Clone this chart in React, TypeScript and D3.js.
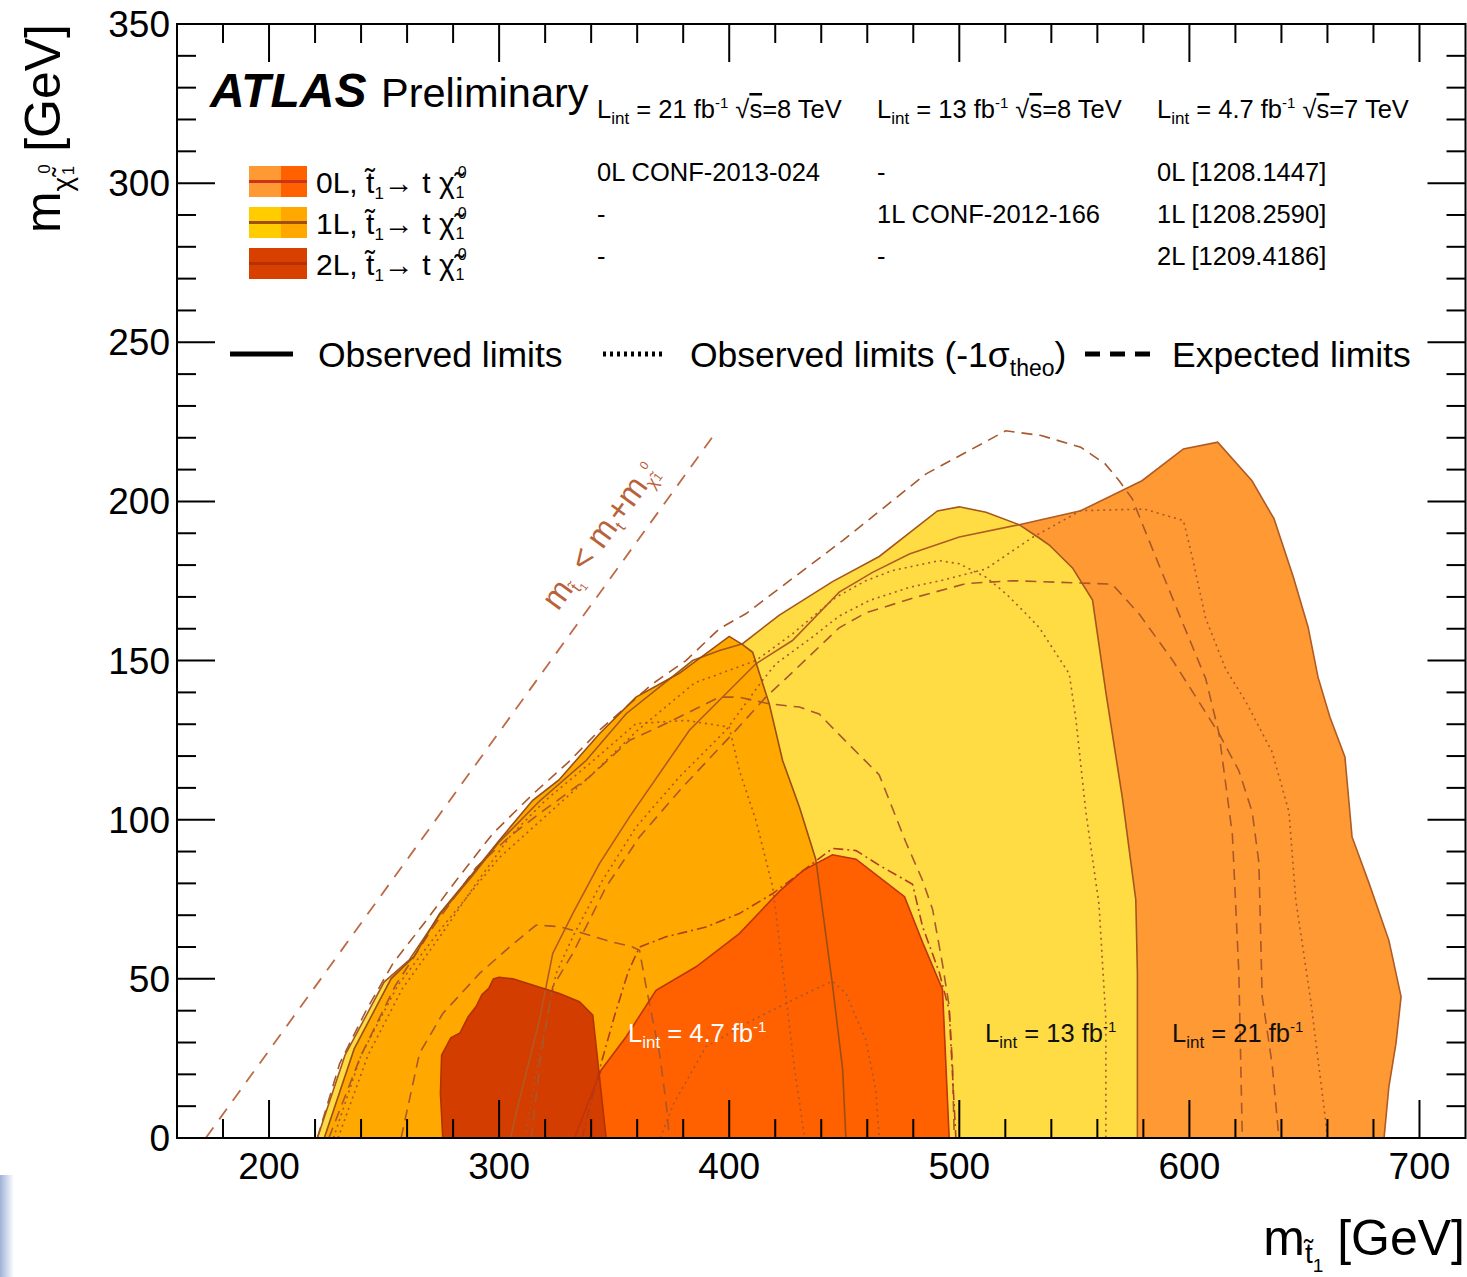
import React from 'react';
import * as d3 from 'd3';

type Pt = [number, number];

// observed exclusion contours, [m_stop, m_LSP] in GeV
const obs0L21: Pt[] = [[305, 0], [307.4, 7.8], [317.5, 37], [323.3, 58], [332, 70.5], [343.6, 86.2], [356.6, 100.8], [382.7, 128.1], [411.6, 149], [427.5, 156.3], [447.8, 171.5], [462.3, 177.7], [478.3, 183.5], [500, 188.8], [526, 192.7], [552.8, 197.1], [579.4, 206.5], [597.4, 216.5], [612.3, 218.6], [627.2, 206.5], [636.8, 194.5], [645.2, 176.2], [651.6, 160.5], [655.9, 144.8], [661.1, 132.2], [667.6, 119.7], [670.7, 94.6], [678.1, 80], [686.7, 62.1], [692, 44.4], [689.8, 29.8], [686.7, 16.1], [684.6, 0]];
const obs1L13: Pt[] = [[221, 0], [233, 26], [250, 49], [261, 56], [274, 70], [288.5, 82.5], [300, 93], [317.5, 105.8], [337.8, 118.6], [355.2, 133.3], [384.1, 150], [395.8, 153.2], [405.8, 155.3], [421.8, 164.3], [444.9, 174.8], [465.2, 182.7], [490.5, 197], [500, 198.3], [511.6, 196.6], [526, 192.7], [534.7, 188.5], [539.1, 186.3], [549.2, 179.1], [557.9, 169], [563.7, 140], [570.9, 106.7], [576.7, 74.9], [577.4, 51.8], [577.4, 0]];
const obs1L47: Pt[] = [[224, 0], [237, 28], [253, 50], [263, 57], [274.1, 70.5], [288.5, 83.1], [300, 93.5], [314.6, 106.1], [326, 112.5], [343.6, 127], [359.5, 138.5], [378.3, 146], [400, 157.6], [405.8, 155], [410.2, 152.6], [417.4, 136.4], [423.2, 118.6], [430.5, 104], [437.6, 87.6], [444.9, 48], [449.3, 21.6], [450.7, 0]];
const obs0L47: Pt[] = [[332.7, 0], [344.3, 21.3], [355.2, 31.8], [368.2, 46.4], [385.6, 53.8], [404.4, 64.2], [421.8, 77.5], [432, 84], [444.9, 89], [455.1, 87.6], [476.2, 75.8], [484.2, 61.2], [492.7, 46.7], [495.6, 0]];
const obs2L47: Pt[] = [[275.5, 0], [274.5, 14], [275, 26], [279, 31.5], [283, 33], [286.5, 38], [290, 41.3], [292.5, 45], [295.5, 47], [297.5, 50], [300, 50.5], [306, 50], [326.2, 45.4], [334.9, 42.8], [340.7, 38.6], [346.5, 0]];

// observed -1 sigma(theory)
const sig0L21: Pt[] = [[311, 0], [313.1, 7.8], [317.5, 26.6], [324.8, 51.7], [332, 63.2], [345, 81], [359.5, 97.7], [378.3, 113.4], [398.6, 128.1], [414.5, 143.8], [420.3, 149], [436.2, 157.4], [447.8, 164], [461, 168.9], [478.3, 173], [494.2, 175.5], [511.6, 178.8], [531.8, 188.7], [552.8, 197.1], [580.4, 197.6], [597.4, 194], [601.4, 182], [607.1, 163.2], [615.8, 147.3], [624.5, 137.1], [636, 121.2], [643.3, 102.4], [646.2, 75], [652.7, 43.3], [659, 6.7], [660, 0]];
const sig1L13: Pt[] = [[228, 0], [240, 26], [256, 48], [275, 66], [300, 88], [320, 101], [340, 114], [360, 128], [385, 143], [411.6, 150], [427.5, 158.4], [446.4, 169.9], [459.4, 175.1], [471, 178.3], [491.4, 181.4], [500, 180.4], [511.6, 176.2], [520.3, 171], [529, 164.7], [534.7, 160.4], [547.8, 145.8], [550.7, 131.4], [555, 102.4], [560.7, 73.5], [563.7, 37.3], [563.7, 0]];
const sig1L47: Pt[] = [[230, 0], [243, 26], [258, 47], [275, 64], [290, 80], [305, 95], [320, 106], [340, 118], [359.5, 130.2], [381.2, 131.2], [400, 129.1], [404.4, 115.5], [411.6, 99.8], [418.9, 78.9], [424.1, 48], [428.4, 21.6], [432.8, 0]];
const sig0L47: Pt[] = [[370, 0], [376, 11], [389.9, 28.7], [410, 37], [430.5, 44.4], [444.9, 49.3], [450.7, 45.4], [459.4, 30.8], [463.7, 15], [465.2, 0]];

// expected limits
const exp0L21: Pt[] = [[314, 0], [318, 25], [323.3, 47.5], [332, 58], [346.5, 78.9], [361, 94.6], [379.8, 110.3], [401.5, 127], [416, 138.6], [424.7, 144.4], [447.8, 160.3], [459.4, 165], [479.7, 169.6], [502.9, 174.2], [523.1, 175.1], [534.7, 174.8], [566.5, 174], [578.2, 164.6], [592.6, 150.2], [604.1, 137.1], [612.9, 127], [621.5, 115.4], [627.3, 102.4], [630.2, 86.5], [630.9, 66.3], [631.6, 44.6], [636, 22.9], [638.9, 0]];
const exp1L13: Pt[] = [[221, 0], [230.7, 23.4], [242.3, 40.2], [253.9, 54.9], [268.4, 68.4], [281.4, 81], [297.2, 95.6], [314.6, 108], [330, 118], [343.6, 128.1], [366.7, 142.7], [381.2, 150], [395.7, 160], [407.2, 164.7], [449.3, 187.7], [485.4, 208.6], [520.2, 222.2], [535.6, 220.7], [552.8, 217], [563.4, 211.8], [569.5, 206.5], [575.2, 200.8], [582.4, 187.8], [595.5, 164.6], [607.1, 144.3], [612.9, 127], [618.7, 95.2], [621.5, 51.8], [623, 0]];
const exp1L47: Pt[] = [[226, 0], [240, 26], [255, 48], [272, 67], [290, 85], [305, 95], [317.5, 101.9], [339.2, 113.4], [356.6, 124.9], [372.5, 130.2], [395.7, 138.5], [404.4, 138.5], [417.4, 136.4], [430.5, 135.4], [439.1, 133.2], [450.7, 124.6], [465.2, 114.1], [471, 103.5], [476.8, 92.9], [484, 81], [488.4, 71.8], [492.7, 54.6], [495.6, 41.4], [497.1, 21.6], [497.8, 0]];
const exp0L47: Pt[] = [[336, 0], [343, 20], [350, 38], [356, 52], [361, 60], [372.5, 63.2], [389.9, 66.3], [404.4, 70.5], [418.9, 76.8], [430.5, 83.1], [444.9, 91], [455.1, 90.3], [465.2, 85.7], [479.7, 79.7], [484, 66.5], [491.3, 52], [495.6, 40.1], [498.5, 0]];
const exp2L47: Pt[] = [[257.4, 0], [265.4, 26.6], [275.5, 39.1], [291.5, 51.7], [304.5, 60], [316.1, 66.9], [326.2, 66.4], [332, 65.3], [346.5, 62.1], [358, 60], [361, 59], [363.9, 47.5], [366.8, 37], [369.7, 26.6], [372.6, 10.9], [374, 0]];

// m_stop = m_top + m_LSP
const kinLimit: Pt[] = [[172.5, 0], [392.5, 220]];
const kinLabelAt: Pt = [325.6, 165.3];

const xTicks = [200, 300, 400, 500, 600, 700];
const yTicks = [0, 50, 100, 150, 200, 250, 300, 350];

const columnHeads = [
  { lumi: '21', energy: '8' },
  { lumi: '13', energy: '8' },
  { lumi: '4.7', energy: '7' },
];
// one entry per row, one string per column
const columnRows = [
  ['0L CONF-2013-024', '-', '0L [1208.1447]'],
  ['-', '1L CONF-2012-166', '1L [1208.2590]'],
  ['-', '-', '2L [1209.4186]'],
];
const legendEntries = [
  { name: '0L', left: '#ff9933', right: '#ff6000', line: '#cc3318' },
  { name: '1L', left: '#ffcc00', right: '#ffa800', line: '#9e5010' },
  { name: '2L', left: '#d84000', right: '#d84000', line: '#b83000' },
];

const FONT = "'Liberation Sans', Arial, Helvetica, sans-serif";
const BROWN = '#a8582c';

const App = () => {
  const x = d3.scaleLinear().domain([160, 720]).range([177, 1465.5]);
  const y = d3.scaleLinear().domain([0, 350]).range([1138, 24]);
  const line = d3.line<Pt>().x(d => x(d[0])).y(d => y(d[1]));
  const [x0, x1] = x.range();
  const [y0, y1] = y.range();

  const xMinor = d3.range(180, 720, 20);
  const yMinor = d3.range(10, 350, 10);

  const kinAngle = Math.atan2(y(kinLimit[1][1]) - y(kinLimit[0][1]), x(kinLimit[1][0]) - x(kinLimit[0][0])) * 180 / Math.PI;

  const regions = [
    { pts: obs0L21, fill: '#ff9933', stroke: '#b05a24' },
    { pts: obs1L13, fill: '#ffdc44', stroke: '#a4571c' },
    { pts: obs1L47, fill: '#ffa800', stroke: '#9a4e12' },
    { pts: obs0L47, fill: '#ff6000', stroke: '#c0340c' },
    { pts: obs2L47, fill: '#d43d00', stroke: '#b23200' },
  ];
  const dashed = [exp0L21, exp1L13, exp1L47, exp2L47];
  const dotted = [sig0L21, sig1L13, sig1L47, sig0L47];

  const lumiLabel = (lx: number, text: string, color: string) => (
    <text x={lx} y={1042} fontSize={25.5} fill={color} fontFamily={FONT}>
      L<tspan fontSize={17} dy={6}>int</tspan>
      <tspan dy={-6}>{` = ${text} fb`}</tspan>
      <tspan fontSize={15} dy={-10}>-1</tspan>
    </text>
  );

  return (
    <svg width={1467} height={1277} style={{ position: 'absolute', left: 0, top: 0, background: '#fff' }}>
      <defs>
        <clipPath id="plot">
          <rect x={x0} y={y1} width={x1 - x0} height={y0 - y1} />
        </clipPath>
        <linearGradient id="corner" x1="0" x2="1" y1="0" y2="0">
          <stop offset="0" stopColor="#9fb3d8" />
          <stop offset="1" stopColor="#ffffff" />
        </linearGradient>
      </defs>
      <rect x={0} y={1175} width={14} height={102} fill="url(#corner)" />

      <g clipPath="url(#plot)">
        {regions.map((r, i) => (
          <path key={'f' + i} d={line(r.pts) + 'Z'} fill={r.fill} stroke="none" />
        ))}
        {dashed.map((pts, i) => (
          <path key={'e' + i} d={line(pts) || ''} fill="none" stroke={BROWN} strokeWidth={1.6} strokeDasharray="11,7" />
        ))}
        <path d={line(exp0L47) || ''} fill="none" stroke="#b23c1c" strokeWidth={1.6} strokeDasharray="10,4,2,4" />
        {dotted.map((pts, i) => (
          <path key={'s' + i} d={line(pts) || ''} fill="none" stroke={BROWN} strokeWidth={1.6} strokeDasharray="2,4" />
        ))}
        {regions.map((r, i) => (
          <path key={'o' + i} d={line(r.pts) || ''} fill="none" stroke={r.stroke} strokeWidth={1.6} />
        ))}
        <path d={line(kinLimit) || ''} fill="none" stroke="#bd6a46" strokeWidth={1.8} strokeDasharray="13,10" />
      </g>

      <text transform={`translate(${x(kinLabelAt[0])},${y(kinLabelAt[1])}) rotate(${kinAngle})`} fontSize={33} fill="#b8623c" fontFamily={FONT}>
        m<tspan fontSize={17} dy={6}>{'t\u0303'}</tspan><tspan fontSize={11} dy={4}>1</tspan>
        <tspan fontSize={33} dy={-10}>{' < m'}</tspan><tspan fontSize={17} dy={6}>t</tspan>
        <tspan fontSize={33} dy={-6}>+m</tspan><tspan fontSize={17} dy={6}>{'\u03c7\u0303'}</tspan>
        <tspan fontSize={12} dx={2} dy={-18}>0</tspan><tspan fontSize={12} dx={-8} dy={18}>1</tspan>
      </text>

      {lumiLabel(628, '4.7', '#ffffff')}
      {lumiLabel(985, '13', '#111')}
      {lumiLabel(1172, '21', '#111')}

      {/* frame and ticks */}
      <rect x={x0} y={y1} width={x1 - x0} height={y0 - y1} fill="none" stroke="#000" strokeWidth={2} />
      {xMinor.map(t => {
        const major = xTicks.includes(t);
        const len = major ? 38 : 19;
        return (
          <g key={'xt' + t}>
            <line x1={x(t)} x2={x(t)} y1={y0} y2={y0 - len} stroke="#000" strokeWidth={2} />
            <line x1={x(t)} x2={x(t)} y1={y1} y2={y1 + len} stroke="#000" strokeWidth={2} />
          </g>
        );
      })}
      {yMinor.map(t => {
        const major = yTicks.includes(t);
        const len = major ? 38 : 19;
        return (
          <g key={'yt' + t}>
            <line x1={x0} x2={x0 + len} y1={y(t)} y2={y(t)} stroke="#000" strokeWidth={2} />
            <line x1={x1} x2={x1 - len} y1={y(t)} y2={y(t)} stroke="#000" strokeWidth={2} />
          </g>
        );
      })}
      {xTicks.map(t => (
        <text key={'xl' + t} x={x(t)} y={1179} textAnchor="middle" fontSize={37} fontFamily={FONT} fill="#000">{t}</text>
      ))}
      {yTicks.map(t => (
        <text key={'yl' + t} x={170} y={y(t) + 13} textAnchor="end" fontSize={37} fontFamily={FONT} fill="#000">{t}</text>
      ))}

      {/* axis titles */}
      <text x={1465} y={1255} textAnchor="end" fontSize={50} fontFamily={FONT} fill="#000">
        m<tspan fontSize={28} dy={8}>{'t\u0303'}</tspan><tspan fontSize={19} dy={9}>1</tspan>
        <tspan fontSize={50} dy={-17}>{' [GeV]'}</tspan>
      </text>
      <text transform="translate(60,24) rotate(-90)" textAnchor="end" fontSize={50} fontFamily={FONT} fill="#000">
        m<tspan fontSize={28} dy={12}>{'\u03c7\u0303'}</tspan>
        <tspan fontSize={17} dx={3} dy={-22}>0</tspan><tspan fontSize={17} dx={-11} dy={24}>1</tspan>
        <tspan fontSize={50} dy={-14}>{' [GeV]'}</tspan>
      </text>

      {/* ATLAS label */}
      <text x={210} y={107} fontSize={48} fontWeight="bold" fontStyle="italic" fontFamily={FONT} fill="#000">ATLAS</text>
      <text x={381} y={107} fontSize={41.5} fontFamily={FONT} fill="#000">Preliminary</text>

      {/* column headers and references */}
      {columnHeads.map((c, i) => (
        <text key={'ch' + i} x={597 + i * 280} y={118} fontSize={25.5} fontFamily={FONT} fill="#000">
          L<tspan fontSize={17} dy={6}>int</tspan>
          <tspan dy={-6}>{` = ${c.lumi} fb`}</tspan>
          <tspan fontSize={15} dy={-10}>-1</tspan>
          <tspan dy={10}>{' \u221a'}</tspan><tspan textDecoration="overline">s</tspan>
          <tspan>{`=${c.energy} TeV`}</tspan>
        </text>
      ))}
      {columnRows.map((row, r) =>
        row.map((t, c) => (
          <text key={`cr${r}${c}`} x={597 + c * 280} y={181 + r * 42} fontSize={25.5} fontFamily={FONT} fill="#000">{t}</text>
        ))
      )}

      {/* channel legend */}
      {legendEntries.map((e, i) => {
        const top = 166 + i * 41;
        return (
          <g key={'le' + i}>
            <rect x={249} y={top} width={32} height={31} fill={e.left} />
            <rect x={281} y={top} width={26} height={31} fill={e.right} />
            <line x1={249} x2={307} y1={top + 15.5} y2={top + 15.5} stroke={e.line} strokeWidth={3} />
            <text x={316} y={top + 27} fontSize={30} fontFamily={FONT} fill="#000">
              {`${e.name}, `}{'t\u0303'}<tspan fontSize={17} dy={6}>1</tspan>
              <tspan dy={-6}>{'\u2192 t '}</tspan>{'\u03c7\u0303'}
              <tspan fontSize={16} dx={3} dy={-15}>0</tspan><tspan fontSize={16} dx={-11} dy={20}>1</tspan>
            </text>
          </g>
        );
      })}

      {/* line style legend */}
      <line x1={230} x2={293} y1={354} y2={354} stroke="#000" strokeWidth={5} />
      <text x={318} y={367} fontSize={35.5} fontFamily={FONT} fill="#000">Observed limits</text>
      <line x1={603} x2={665} y1={354} y2={354} stroke="#000" strokeWidth={5} strokeDasharray="3,4" />
      <text x={690} y={367} fontSize={35.5} fontFamily={FONT} fill="#000">
        Observed limits (-1σ<tspan fontSize={23} dy={9}>theo</tspan><tspan dy={-9}>)</tspan>
      </text>
      <line x1={1085} x2={1150} y1={354} y2={354} stroke="#000" strokeWidth={5} strokeDasharray="15,10" />
      <text x={1172} y={367} fontSize={35.5} fontFamily={FONT} fill="#000">Expected limits</text>
    </svg>
  );
};

export default App;
